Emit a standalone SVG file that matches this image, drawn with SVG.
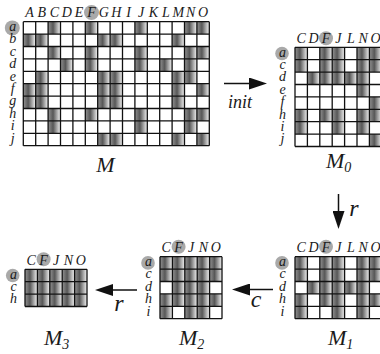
<svg xmlns="http://www.w3.org/2000/svg" width="380" height="354" viewBox="0 0 380 354">
<defs>
<linearGradient id="sh" x1="0" y1="0" x2="1" y2="0">
<stop offset="0" stop-color="#929292"/>
<stop offset="0.4" stop-color="#575757"/>
<stop offset="1" stop-color="#f4f4f4"/>
</linearGradient>
<marker id="ah" markerUnits="userSpaceOnUse" markerWidth="18" markerHeight="12" refX="8" refY="6" orient="auto">
<path d="M0,0 L18,6 L0,12 Z" fill="#111"/>
</marker>
</defs>
<style>
.bg{fill:#fff}
.s{fill:url(#sh)}
.grid{fill:none;stroke:#111;stroke-width:1.3}
.lb{font-style:italic;font-size:14px;fill:#1a1a1a;text-anchor:middle}
.hl{fill:#a9a9a9}
.ttl{font-style:italic;font-size:22px;fill:#1a1a1a}
.sub{font-size:14px}
.al{font-style:italic;fill:#1a1a1a;text-anchor:middle}
.ar{stroke:#111;stroke-width:1.5;fill:none;marker-end:url(#ah)}
</style>

<g id="M" transform="translate(23.3,21.7)" font-family="Liberation Serif, DejaVu Serif, serif">
<rect class="bg" x="0" y="0" width="186" height="124"/>
<g>
<rect class="s" x="0" y="12.4" width="12.4" height="12.4"/><rect class="s" x="0" y="62" width="12.4" height="12.4"/><rect class="s" x="0" y="74.4" width="12.4" height="12.4"/>
<rect class="s" x="12.4" y="12.4" width="12.4" height="12.4"/><rect class="s" x="12.4" y="49.6" width="12.4" height="12.4"/><rect class="s" x="12.4" y="62" width="12.4" height="12.4"/><rect class="s" x="12.4" y="74.4" width="12.4" height="12.4"/>
<rect class="s" x="24.8" y="0" width="12.4" height="12.4"/><rect class="s" x="24.8" y="24.8" width="12.4" height="12.4"/><rect class="s" x="24.8" y="86.8" width="12.4" height="12.4"/><rect class="s" x="24.8" y="99.2" width="12.4" height="12.4"/>
<rect class="s" x="37.2" y="37.2" width="12.4" height="12.4"/>
<rect class="s" x="62" y="0" width="12.4" height="12.4"/><rect class="s" x="62" y="24.8" width="12.4" height="12.4"/><rect class="s" x="62" y="37.2" width="12.4" height="12.4"/><rect class="s" x="62" y="86.8" width="12.4" height="12.4"/>
<rect class="s" x="74.4" y="12.4" width="12.4" height="12.4"/><rect class="s" x="74.4" y="49.6" width="12.4" height="12.4"/><rect class="s" x="74.4" y="62" width="12.4" height="12.4"/><rect class="s" x="74.4" y="74.4" width="12.4" height="12.4"/><rect class="s" x="74.4" y="111.6" width="12.4" height="12.4"/>
<rect class="s" x="86.8" y="12.4" width="12.4" height="12.4"/><rect class="s" x="86.8" y="49.6" width="12.4" height="12.4"/><rect class="s" x="86.8" y="62" width="12.4" height="12.4"/><rect class="s" x="86.8" y="74.4" width="12.4" height="12.4"/><rect class="s" x="86.8" y="111.6" width="12.4" height="12.4"/>
<rect class="s" x="111.6" y="0" width="12.4" height="12.4"/><rect class="s" x="111.6" y="24.8" width="12.4" height="12.4"/><rect class="s" x="111.6" y="37.2" width="12.4" height="12.4"/><rect class="s" x="111.6" y="86.8" width="12.4" height="12.4"/><rect class="s" x="111.6" y="99.2" width="12.4" height="12.4"/>
<rect class="s" x="136.4" y="37.2" width="12.4" height="12.4"/>
<rect class="s" x="148.8" y="12.4" width="12.4" height="12.4"/><rect class="s" x="148.8" y="49.6" width="12.4" height="12.4"/><rect class="s" x="148.8" y="62" width="12.4" height="12.4"/><rect class="s" x="148.8" y="74.4" width="12.4" height="12.4"/><rect class="s" x="148.8" y="111.6" width="12.4" height="12.4"/>
<rect class="s" x="161.2" y="0" width="12.4" height="12.4"/><rect class="s" x="161.2" y="24.8" width="12.4" height="12.4"/><rect class="s" x="161.2" y="37.2" width="12.4" height="12.4"/><rect class="s" x="161.2" y="49.6" width="12.4" height="12.4"/><rect class="s" x="161.2" y="86.8" width="12.4" height="12.4"/><rect class="s" x="161.2" y="99.2" width="12.4" height="12.4"/>
<rect class="s" x="173.6" y="0" width="12.4" height="12.4"/><rect class="s" x="173.6" y="24.8" width="12.4" height="12.4"/><rect class="s" x="173.6" y="62" width="12.4" height="12.4"/><rect class="s" x="173.6" y="86.8" width="12.4" height="12.4"/><rect class="s" x="173.6" y="111.6" width="12.4" height="12.4"/>
</g>
<path class="grid" d="M0,0V124M12.4,0V124M24.8,0V124M37.2,0V124M49.6,0V124M62,0V124M74.4,0V124M86.8,0V124M99.2,0V124M111.6,0V124M124,0V124M136.4,0V124M148.8,0V124M161.2,0V124M173.6,0V124M186,0V124M0,0H186M0,12.4H186M0,24.8H186M0,37.2H186M0,49.6H186M0,62H186M0,74.4H186M0,86.8H186M0,99.2H186M0,111.6H186M0,124H186"/>
<circle class="hl" cx="68.2" cy="-9.2" r="7.5"/>
<circle class="hl" cx="-11" cy="6.2" r="7.5"/>
<g class="lb">
<text x="6.2" y="-4.5">A</text><text x="18.6" y="-4.5">B</text><text x="31" y="-4.5">C</text><text x="43.4" y="-4.5">D</text><text x="55.8" y="-4.5">E</text><text x="68.2" y="-4.5">F</text><text x="80.6" y="-4.5">G</text><text x="93" y="-4.5">H</text><text x="105.4" y="-4.5">I</text><text x="117.8" y="-4.5">J</text><text x="130.2" y="-4.5">K</text><text x="142.6" y="-4.5">L</text><text x="155" y="-4.5">M</text><text x="167.4" y="-4.5">N</text><text x="179.8" y="-4.5">O</text>
<text x="-10.5" y="9.4">a</text><text x="-10.5" y="21.8">b</text><text x="-10.5" y="34.2">c</text><text x="-10.5" y="46.6">d</text><text x="-10.5" y="59">e</text><text x="-10.5" y="71.4">f</text><text x="-10.5" y="83.8">g</text><text x="-10.5" y="96.2">h</text><text x="-10.5" y="108.6">i</text><text x="-10.5" y="121">j</text>
</g>
<text class="ttl" x="73" y="150.3">M</text>
</g>

<g id="M0" transform="translate(295,47.3)" font-family="Liberation Serif, DejaVu Serif, serif">
<rect class="bg" x="0" y="0" width="86.8" height="99.2"/>
<g>
<rect class="s" x="0" y="0" width="12.4" height="12.4"/><rect class="s" x="24.8" y="0" width="12.4" height="12.4"/><rect class="s" x="37.2" y="0" width="12.4" height="12.4"/><rect class="s" x="62" y="0" width="12.4" height="12.4"/><rect class="s" x="74.4" y="0" width="12.4" height="12.4"/>
<rect class="s" x="0" y="12.4" width="12.4" height="12.4"/><rect class="s" x="24.8" y="12.4" width="12.4" height="12.4"/><rect class="s" x="37.2" y="12.4" width="12.4" height="12.4"/><rect class="s" x="62" y="12.4" width="12.4" height="12.4"/><rect class="s" x="74.4" y="12.4" width="12.4" height="12.4"/>
<rect class="s" x="12.4" y="24.8" width="12.4" height="12.4"/><rect class="s" x="24.8" y="24.8" width="12.4" height="12.4"/><rect class="s" x="37.2" y="24.8" width="12.4" height="12.4"/><rect class="s" x="49.6" y="24.8" width="12.4" height="12.4"/><rect class="s" x="62" y="24.8" width="12.4" height="12.4"/>
<rect class="s" x="62" y="37.2" width="12.4" height="12.4"/>
<rect class="s" x="74.4" y="49.6" width="12.4" height="12.4"/>
<rect class="s" x="0" y="62" width="12.4" height="12.4"/><rect class="s" x="24.8" y="62" width="12.4" height="12.4"/><rect class="s" x="37.2" y="62" width="12.4" height="12.4"/><rect class="s" x="62" y="62" width="12.4" height="12.4"/><rect class="s" x="74.4" y="62" width="12.4" height="12.4"/>
<rect class="s" x="0" y="74.4" width="12.4" height="12.4"/><rect class="s" x="37.2" y="74.4" width="12.4" height="12.4"/><rect class="s" x="62" y="74.4" width="12.4" height="12.4"/>
<rect class="s" x="74.4" y="86.8" width="12.4" height="12.4"/>
</g>
<path class="grid" d="M0,0V99.2M12.4,0V99.2M24.8,0V99.2M37.2,0V99.2M49.6,0V99.2M62,0V99.2M74.4,0V99.2M86.8,0V99.2M0,0H86.8M0,12.4H86.8M0,24.8H86.8M0,37.2H86.8M0,49.6H86.8M0,62H86.8M0,74.4H86.8M0,86.8H86.8M0,99.2H86.8"/>
<circle class="hl" cx="31" cy="-9" r="7"/>
<circle class="hl" cx="-13" cy="6.2" r="6.8"/>
<g class="lb">
<text x="6.2" y="-4.5">C</text><text x="18.6" y="-4.5">D</text><text x="31" y="-4.5">F</text><text x="43.4" y="-4.5">J</text><text x="55.8" y="-4.5">L</text><text x="68.2" y="-4.5">N</text><text x="80.6" y="-4.5">O</text>
<text x="-12.5" y="9.4">a</text><text x="-12.5" y="21.8">c</text><text x="-12.5" y="34.2">d</text><text x="-12.5" y="46.6">e</text><text x="-12.5" y="59">f</text><text x="-12.5" y="71.4">h</text><text x="-12.5" y="83.8">i</text><text x="-12.5" y="96.2">j</text>
</g>
<text class="ttl" x="31" y="120.7">M<tspan class="sub" dy="4">0</tspan></text>
</g>

<g id="M1" transform="translate(295,256.7)" font-family="Liberation Serif, DejaVu Serif, serif">
<rect class="bg" x="0" y="0" width="86.8" height="62"/>
<g>
<rect class="s" x="0" y="0" width="12.4" height="12.4"/><rect class="s" x="24.8" y="0" width="12.4" height="12.4"/><rect class="s" x="37.2" y="0" width="12.4" height="12.4"/><rect class="s" x="62" y="0" width="12.4" height="12.4"/><rect class="s" x="74.4" y="0" width="12.4" height="12.4"/>
<rect class="s" x="0" y="12.4" width="12.4" height="12.4"/><rect class="s" x="24.8" y="12.4" width="12.4" height="12.4"/><rect class="s" x="37.2" y="12.4" width="12.4" height="12.4"/><rect class="s" x="62" y="12.4" width="12.4" height="12.4"/><rect class="s" x="74.4" y="12.4" width="12.4" height="12.4"/>
<rect class="s" x="12.4" y="24.8" width="12.4" height="12.4"/><rect class="s" x="24.8" y="24.8" width="12.4" height="12.4"/><rect class="s" x="37.2" y="24.8" width="12.4" height="12.4"/><rect class="s" x="49.6" y="24.8" width="12.4" height="12.4"/><rect class="s" x="62" y="24.8" width="12.4" height="12.4"/>
<rect class="s" x="0" y="37.2" width="12.4" height="12.4"/><rect class="s" x="24.8" y="37.2" width="12.4" height="12.4"/><rect class="s" x="37.2" y="37.2" width="12.4" height="12.4"/><rect class="s" x="62" y="37.2" width="12.4" height="12.4"/><rect class="s" x="74.4" y="37.2" width="12.4" height="12.4"/>
<rect class="s" x="0" y="49.6" width="12.4" height="12.4"/><rect class="s" x="37.2" y="49.6" width="12.4" height="12.4"/><rect class="s" x="62" y="49.6" width="12.4" height="12.4"/>
</g>
<path class="grid" d="M0,0V62M12.4,0V62M24.8,0V62M37.2,0V62M49.6,0V62M62,0V62M74.4,0V62M86.8,0V62M0,0H86.8M0,12.4H86.8M0,24.8H86.8M0,37.2H86.8M0,49.6H86.8M0,62H86.8"/>
<circle class="hl" cx="31" cy="-10" r="7"/>
<circle class="hl" cx="-13" cy="6.2" r="6.8"/>
<g class="lb">
<text x="6.2" y="-4.5">C</text><text x="18.6" y="-4.5">D</text><text x="31" y="-4.5">F</text><text x="43.4" y="-4.5">J</text><text x="55.8" y="-4.5">L</text><text x="68.2" y="-4.5">N</text><text x="80.6" y="-4.5">O</text>
<text x="-12.5" y="9.4">a</text><text x="-12.5" y="21.8">c</text><text x="-12.5" y="34.2">d</text><text x="-12.5" y="46.6">h</text><text x="-12.5" y="59">i</text>
</g>
<text class="ttl" x="33" y="88.3">M<tspan class="sub" dy="4">1</tspan></text>
</g>

<g id="M2" transform="translate(160,256.7)" font-family="Liberation Serif, DejaVu Serif, serif">
<rect class="bg" x="0" y="0" width="62" height="62"/>
<g>
<rect class="s" x="0" y="0" width="12.4" height="12.4"/><rect class="s" x="12.4" y="0" width="12.4" height="12.4"/><rect class="s" x="24.8" y="0" width="12.4" height="12.4"/><rect class="s" x="37.2" y="0" width="12.4" height="12.4"/><rect class="s" x="49.6" y="0" width="12.4" height="12.4"/>
<rect class="s" x="0" y="12.4" width="12.4" height="12.4"/><rect class="s" x="12.4" y="12.4" width="12.4" height="12.4"/><rect class="s" x="24.8" y="12.4" width="12.4" height="12.4"/><rect class="s" x="37.2" y="12.4" width="12.4" height="12.4"/><rect class="s" x="49.6" y="12.4" width="12.4" height="12.4"/>
<rect class="s" x="12.4" y="24.8" width="12.4" height="12.4"/><rect class="s" x="24.8" y="24.8" width="12.4" height="12.4"/><rect class="s" x="37.2" y="24.8" width="12.4" height="12.4"/>
<rect class="s" x="0" y="37.2" width="12.4" height="12.4"/><rect class="s" x="12.4" y="37.2" width="12.4" height="12.4"/><rect class="s" x="24.8" y="37.2" width="12.4" height="12.4"/><rect class="s" x="37.2" y="37.2" width="12.4" height="12.4"/><rect class="s" x="49.6" y="37.2" width="12.4" height="12.4"/>
<rect class="s" x="0" y="49.6" width="12.4" height="12.4"/><rect class="s" x="24.8" y="49.6" width="12.4" height="12.4"/><rect class="s" x="37.2" y="49.6" width="12.4" height="12.4"/>
</g>
<path class="grid" d="M0,0V62M12.4,0V62M24.8,0V62M37.2,0V62M49.6,0V62M62,0V62M0,0H62M0,12.4H62M0,24.8H62M0,37.2H62M0,49.6H62M0,62H62"/>
<circle class="hl" cx="18.6" cy="-10" r="7"/>
<circle class="hl" cx="-12" cy="6.2" r="6.8"/>
<g class="lb">
<text x="6.2" y="-4.5">C</text><text x="18.6" y="-4.5">F</text><text x="31" y="-4.5">J</text><text x="43.4" y="-4.5">N</text><text x="55.8" y="-4.5">O</text>
<text x="-11.5" y="9.4">a</text><text x="-11.5" y="21.8">c</text><text x="-11.5" y="34.2">d</text><text x="-11.5" y="46.6">h</text><text x="-11.5" y="59">i</text>
</g>
<text class="ttl" x="19" y="88.3">M<tspan class="sub" dy="4">2</tspan></text>
</g>

<g id="M3" transform="translate(25,269.3)" font-family="Liberation Serif, DejaVu Serif, serif">
<rect class="bg" x="0" y="0" width="62" height="37.2"/>
<g>
<rect class="s" x="0" y="0" width="12.4" height="12.4"/><rect class="s" x="12.4" y="0" width="12.4" height="12.4"/><rect class="s" x="24.8" y="0" width="12.4" height="12.4"/><rect class="s" x="37.2" y="0" width="12.4" height="12.4"/><rect class="s" x="49.6" y="0" width="12.4" height="12.4"/>
<rect class="s" x="0" y="12.4" width="12.4" height="12.4"/><rect class="s" x="12.4" y="12.4" width="12.4" height="12.4"/><rect class="s" x="24.8" y="12.4" width="12.4" height="12.4"/><rect class="s" x="37.2" y="12.4" width="12.4" height="12.4"/><rect class="s" x="49.6" y="12.4" width="12.4" height="12.4"/>
<rect class="s" x="0" y="24.8" width="12.4" height="12.4"/><rect class="s" x="12.4" y="24.8" width="12.4" height="12.4"/><rect class="s" x="24.8" y="24.8" width="12.4" height="12.4"/><rect class="s" x="37.2" y="24.8" width="12.4" height="12.4"/><rect class="s" x="49.6" y="24.8" width="12.4" height="12.4"/>
</g>
<path class="grid" d="M0,0V37.2M12.4,0V37.2M24.8,0V37.2M37.2,0V37.2M49.6,0V37.2M62,0V37.2M0,0H62M0,12.4H62M0,24.8H62M0,37.2H62"/>
<circle class="hl" cx="18.6" cy="-10" r="7"/>
<circle class="hl" cx="-12.3" cy="6.2" r="6.8"/>
<g class="lb">
<text x="6.2" y="-4.5">C</text><text x="18.6" y="-4.5">F</text><text x="31" y="-4.5">J</text><text x="43.4" y="-4.5">N</text><text x="55.8" y="-4.5">O</text>
<text x="-11.5" y="9.4">a</text><text x="-11.5" y="21.8">c</text><text x="-11.5" y="34.2">h</text>
</g>
<text class="ttl" x="19" y="75.7">M<tspan class="sub" dy="4">3</tspan></text>
</g>

<g id="connectors" font-family="Liberation Serif, DejaVu Serif, serif">
<line class="ar" x1="224" y1="83.5" x2="257" y2="83.5"/>
<line class="ar" x1="338.5" y1="194" x2="338.5" y2="219"/>
<line class="ar" x1="273" y1="289.5" x2="242" y2="289.5"/>
<line class="ar" x1="137" y1="290" x2="105" y2="290"/>
<text class="al" x="240" y="108" font-size="18">init</text>
<text class="al" x="354" y="216" font-size="24">r</text>
<text class="al" x="256" y="307" font-size="24">c</text>
<text class="al" x="119" y="311" font-size="24">r</text>
</g>
</svg>
